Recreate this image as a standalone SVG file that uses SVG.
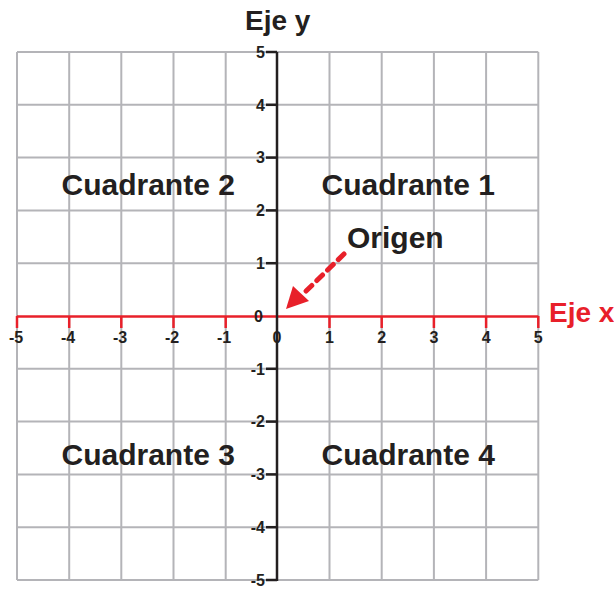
<svg xmlns="http://www.w3.org/2000/svg" width="614" height="589" viewBox="0 0 614 589">
<defs>
<style>
.grid line{stroke:#b4b4b8;stroke-width:2}
.t{font-family:"Liberation Sans",Arial,sans-serif;font-weight:bold;fill:#231f20}
.num{font-size:16px}
.q{font-size:30px}
.red{fill:#e8202a}
.rt{stroke:#e8202a;stroke-width:2.5}
.bt{stroke:#231f20;stroke-width:2.5}
</style>
</defs>
<rect width="614" height="589" fill="#fff"/>
<g id="grid" class="grid">
<line x1="17" y1="52" x2="17" y2="580"/>
<line x1="69.2" y1="52" x2="69.2" y2="580"/>
<line x1="121.3" y1="52" x2="121.3" y2="580"/>
<line x1="173.5" y1="52" x2="173.5" y2="580"/>
<line x1="225.7" y1="52" x2="225.7" y2="580"/>
<line x1="329.5" y1="52" x2="329.5" y2="580"/>
<line x1="381.7" y1="52" x2="381.7" y2="580"/>
<line x1="433.9" y1="52" x2="433.9" y2="580"/>
<line x1="486.1" y1="52" x2="486.1" y2="580"/>
<line x1="538.3" y1="52" x2="538.3" y2="580"/>
<line x1="17" y1="52" x2="538.3" y2="52"/>
<line x1="17" y1="104.8" x2="538.3" y2="104.8"/>
<line x1="17" y1="157.6" x2="538.3" y2="157.6"/>
<line x1="17" y1="210.4" x2="538.3" y2="210.4"/>
<line x1="17" y1="263.2" x2="538.3" y2="263.2"/>
<line x1="17" y1="368.8" x2="538.3" y2="368.8"/>
<line x1="17" y1="421.6" x2="538.3" y2="421.6"/>
<line x1="17" y1="474.4" x2="538.3" y2="474.4"/>
<line x1="17" y1="527.2" x2="538.3" y2="527.2"/>
<line x1="17" y1="580" x2="538.3" y2="580"/>
</g>
<g id="x-axis">
<line class="rt" x1="17" y1="316.5" x2="538.3" y2="316.5"/>
<line class="rt" x1="17" y1="316" x2="17" y2="328"/>
<line class="rt" x1="69.2" y1="316" x2="69.2" y2="328"/>
<line class="rt" x1="121.3" y1="316" x2="121.3" y2="328"/>
<line class="rt" x1="173.5" y1="316" x2="173.5" y2="328"/>
<line class="rt" x1="225.7" y1="316" x2="225.7" y2="328"/>
<line class="rt" x1="329.5" y1="316" x2="329.5" y2="328"/>
<line class="rt" x1="381.7" y1="316" x2="381.7" y2="328"/>
<line class="rt" x1="433.9" y1="316" x2="433.9" y2="328"/>
<line class="rt" x1="486.1" y1="316" x2="486.1" y2="328"/>
<line class="rt" x1="538.3" y1="316" x2="538.3" y2="328"/>
<g class="t num" text-anchor="middle">
<text x="16" y="343">-5</text>
<text x="68" y="343">-4</text>
<text x="120" y="343">-3</text>
<text x="172" y="343">-2</text>
<text x="224" y="343">-1</text>
<text x="277" y="343">0</text>
<text x="329.5" y="343">1</text>
<text x="381.7" y="343">2</text>
<text x="433.9" y="343">3</text>
<text x="486.1" y="343">4</text>
<text x="538.3" y="343">5</text>
</g>
<text class="t red" x="549" y="322" font-size="28">Eje x</text>
</g>
<g id="y-axis">
<line class="bt" x1="277" y1="52" x2="277" y2="581"/>
<line class="bt" x1="266" y1="52" x2="277" y2="52"/>
<line class="bt" x1="266" y1="104.8" x2="277" y2="104.8"/>
<line class="bt" x1="266" y1="157.6" x2="277" y2="157.6"/>
<line class="bt" x1="266" y1="210.4" x2="277" y2="210.4"/>
<line class="bt" x1="266" y1="263.2" x2="277" y2="263.2"/>
<line class="bt" x1="266" y1="368.8" x2="277" y2="368.8"/>
<line class="bt" x1="266" y1="421.6" x2="277" y2="421.6"/>
<line class="bt" x1="266" y1="474.4" x2="277" y2="474.4"/>
<line class="bt" x1="266" y1="527.2" x2="277" y2="527.2"/>
<line class="bt" x1="266" y1="580" x2="277" y2="580"/>
<g class="t num" text-anchor="end">
<text x="265" y="57.8">5</text>
<text x="265" y="110.6">4</text>
<text x="265" y="163.4">3</text>
<text x="265" y="216.2">2</text>
<text x="265" y="269">1</text>
<text x="263" y="321.8">0</text>
<text x="265" y="374.6">-1</text>
<text x="265" y="427.4">-2</text>
<text x="265" y="480.2">-3</text>
<text x="265" y="533">-4</text>
<text x="265" y="585.8">-5</text>
</g>
<text class="t" x="245" y="30" font-size="28">Eje y</text>
</g>
<g id="quadrants" class="t q">
<text x="61.5" y="195">Cuadrante 2</text>
<text x="321.5" y="195">Cuadrante 1</text>
<text x="61.5" y="465">Cuadrante 3</text>
<text x="321.5" y="465">Cuadrante 4</text>
</g>
<g id="origen">
<text class="t" x="347" y="248" font-size="30">Origen</text>
</g>
<g id="connectors">
<line x1="344" y1="254" x2="302" y2="295" stroke="#e8202a" stroke-width="5" stroke-linecap="round" stroke-dasharray="8 7"/>
<polygon points="286,309 293,286 309,301" fill="#e8202a"/>
</g>
</svg>
